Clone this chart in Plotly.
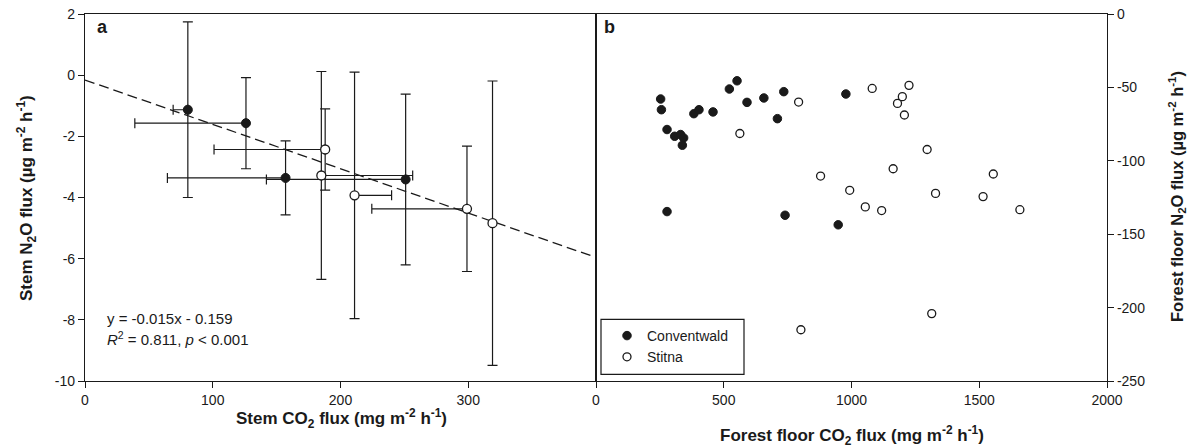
import plotly.graph_objects as go

# ---------------- Panel a: stem fluxes (means with error bars) ----------------
conv_stem_co2 = [80.5, 126, 157, 251]
conv_stem_n2o = [-1.13, -1.57, -3.36, -3.41]
conv_stem_n2o_err = [2.87, 1.49, 1.21, 2.79]
conv_stem_co2_err_plus = [0, 0, 0, 0]
conv_stem_co2_err_minus = [11.5, 87, 92.5, 109]

stit_stem_co2 = [185, 188, 211, 299, 319]
stit_stem_n2o = [-3.28, -2.43, -3.93, -4.37, -4.84]
stit_stem_n2o_err = [3.4, 1.33, 4.03, 2.05, 4.65]
stit_stem_co2_err_plus = [71.5, 0, 29, 0, 0]
stit_stem_co2_err_minus = [0, 87, 0, 74.5, 0]

fit_slope = -0.0145
fit_intercept = -0.159
fit_x_range = [0, 400]

# ---------------- Panel b: forest floor fluxes ----------------
conv_floor_co2 = [253, 256, 278, 308, 331, 343, 338, 383, 403, 458, 522, 552, 591,
                  657, 710, 735, 978, 278, 740, 948]
conv_floor_n2o = [-57.9, -65.2, -78.7, -83.3, -82.1, -84.4, -89.4, -67.9, -65.2, -66.7,
                  -51.1, -45.5, -60.2, -57.2, -71.3, -52.9, -54.5, -134.6, -137.1, -143.6]

stit_floor_co2 = [563, 793, 879, 993, 1054, 1118, 1081, 1163, 1180, 1199, 1207, 1225,
                  1296, 1329, 1515, 1555, 1659, 802, 1314]
stit_floor_n2o = [-81.4, -60.0, -110.4, -120.1, -131.4, -133.9, -50.7, -105.4, -60.9,
                  -56.3, -68.8, -48.6, -92.3, -122.2, -124.4, -109.0, -133.3, -215.1, -204.1]

# ---------------- tick labels ----------------
a_x_ticks = [0, 100, 200, 300, 400]
a_x_labels = ["0", "100", "200", "300", ""]
a_y_ticks = [2, 0, -2, -4, -6, -8, -10]
a_y_labels = ["2", "0", "-2", "-4", "-6", "-8", "-10"]
b_x_ticks = [0, 500, 1000, 1500, 2000]
b_x_labels = ["0", "500", "1000", "1500", "2000"]
b_y_ticks = [0, -50, -100, -150, -200, -250]
b_y_labels = ["0", "-50", "-100", "-150", "-200", "-250"]

FONT = "Liberation Sans, Arial, sans-serif"
INK = "#1a1a1a"
W, H = 1192, 448
L, R, T, B = 85, 85, 14, 67
PW, PH = W - L - R, H - T - B


def px(xp):
    return (xp - L) / PW


def py(yp):
    return (H - B - yp) / PH


fig = go.Figure()

# regression line
fit_y = [fit_slope * v + fit_intercept for v in fit_x_range]
fig.add_trace(go.Scatter(x=fit_x_range, y=fit_y, mode="lines",
                         line=dict(color=INK, width=1.3, dash="10px,5px"),
                         showlegend=False, hoverinfo="skip", xaxis="x", yaxis="y"))

err_style = dict(color=INK, thickness=1.2, width=5)

fig.add_trace(go.Scatter(
    x=conv_stem_co2, y=conv_stem_n2o, mode="markers",
    marker=dict(size=9, color=INK, line=dict(color=INK, width=1)),
    error_y=dict(type="data", array=conv_stem_n2o_err, visible=True, **err_style),
    error_x=dict(type="data", symmetric=False, array=conv_stem_co2_err_plus,
                 arrayminus=conv_stem_co2_err_minus, visible=True, **err_style),
    showlegend=False, xaxis="x", yaxis="y"))

fig.add_trace(go.Scatter(
    x=stit_stem_co2, y=stit_stem_n2o, mode="markers",
    marker=dict(size=9, color="white", line=dict(color=INK, width=1.3)),
    error_y=dict(type="data", array=stit_stem_n2o_err, visible=True, **err_style),
    error_x=dict(type="data", symmetric=False, array=stit_stem_co2_err_plus,
                 arrayminus=stit_stem_co2_err_minus, visible=True, **err_style),
    showlegend=False, xaxis="x", yaxis="y"))

fig.add_trace(go.Scatter(
    x=conv_floor_co2, y=conv_floor_n2o, mode="markers", name="Conventwald",
    marker=dict(size=8.5, color=INK, line=dict(color=INK, width=1)),
    xaxis="x2", yaxis="y2"))

fig.add_trace(go.Scatter(
    x=stit_floor_co2, y=stit_floor_n2o, mode="markers", name="Stitna",
    marker=dict(size=8, color="white", line=dict(color=INK, width=1.3)),
    xaxis="x2", yaxis="y2"))

axis_common = dict(showline=True, linecolor=INK, linewidth=1.2, mirror=True,
                   ticks="outside", ticklen=6, tickwidth=1.2, tickcolor=INK,
                   showgrid=False, zeroline=False, automargin=False,
                   tickfont=dict(family=FONT, size=14, color=INK))

fig.update_layout(
    width=W, height=H,
    margin=dict(l=L, r=R, t=T, b=B, autoexpand=False),
    paper_bgcolor="white", plot_bgcolor="white",
    font=dict(family=FONT, color=INK),
    xaxis=dict(domain=[0, 0.5], range=[0, 400], tickvals=a_x_ticks, ticktext=a_x_labels,
               anchor="y", **axis_common),
    yaxis=dict(domain=[0, 1], range=[-10, 2], tickvals=a_y_ticks, ticktext=a_y_labels,
               anchor="x", **axis_common),
    xaxis2=dict(domain=[0.5, 1], range=[0, 2000], tickvals=b_x_ticks, ticktext=b_x_labels,
                anchor="y2", **axis_common),
    yaxis2=dict(domain=[0, 1], range=[-250, 0], tickvals=b_y_ticks, ticktext=b_y_labels,
                anchor="x2", side="right", **axis_common),
    showlegend=True,
    legend=dict(x=px(607), y=py(320), xanchor="left", yanchor="top",
                bgcolor="rgba(0,0,0,0)", borderwidth=0,
                font=dict(family=FONT, size=14, color=INK),
                tracegroupgap=0, itemwidth=30),
)

# legend frame
fig.add_shape(type="rect", xref="paper", yref="paper",
              x0=px(601), x1=px(744), y0=py(374.3), y1=py(319.3),
              line=dict(color=INK, width=1.2), fillcolor="rgba(0,0,0,0)", layer="above")

title_font = dict(family=FONT, size=17, color=INK)
anns = [
    dict(text="<b>Stem CO<sub>2</sub> flux (mg m<sup>-2</sup> h<sup>-1</sup>)</b>",
         x=px(341), y=py(418), xanchor="center", yanchor="middle", font=title_font),
    dict(text="<b>Forest floor CO<sub>2</sub> flux (mg m<sup>-2</sup> h<sup>-1</sup>)</b>",
         x=px(852), y=py(435), xanchor="center", yanchor="middle", font=title_font),
    dict(text="<b>Stem N<sub>2</sub>O flux (µg m<sup>-2</sup> h<sup>-1</sup>)</b>",
         x=px(26), y=py(198), xanchor="center", yanchor="middle", textangle=-90,
         font=title_font),
    dict(text="<b>Forest floor N<sub>2</sub>O flux (µg m<sup>-2</sup> h<sup>-1</sup>)</b>",
         x=px(1177), y=py(197), xanchor="center", yanchor="middle", textangle=-90,
         font=dict(family=FONT, size=16.5, color=INK)),
    dict(text="<b>a</b>", x=px(102), y=py(27), xanchor="center", yanchor="middle",
         font=dict(family=FONT, size=18, color=INK)),
    dict(text="<b>b</b>", x=px(609.5), y=py(27), xanchor="center", yanchor="middle",
         font=dict(family=FONT, size=18, color=INK)),
    dict(text="y = -0.015x - 0.159", x=px(105), y=py(318), xanchor="left",
         yanchor="middle", font=dict(family=FONT, size=15, color=INK)),
    dict(text="<i>R</i><sup>2</sup> = 0.811, <i>p</i> &lt; 0.001", x=px(105), y=py(338),
         xanchor="left", yanchor="middle", font=dict(family=FONT, size=15, color=INK)),
]
for a in anns:
    a.setdefault("xref", "paper")
    a.setdefault("yref", "paper")
    a["showarrow"] = False
    fig.add_annotation(**a)

fig.write_html(
    "out.html",
    config={"displayModeBar": False},
    post_script="document.body.style.margin='0';document.body.style.padding='0';"
                "document.documentElement.style.overflow='hidden';",
)
